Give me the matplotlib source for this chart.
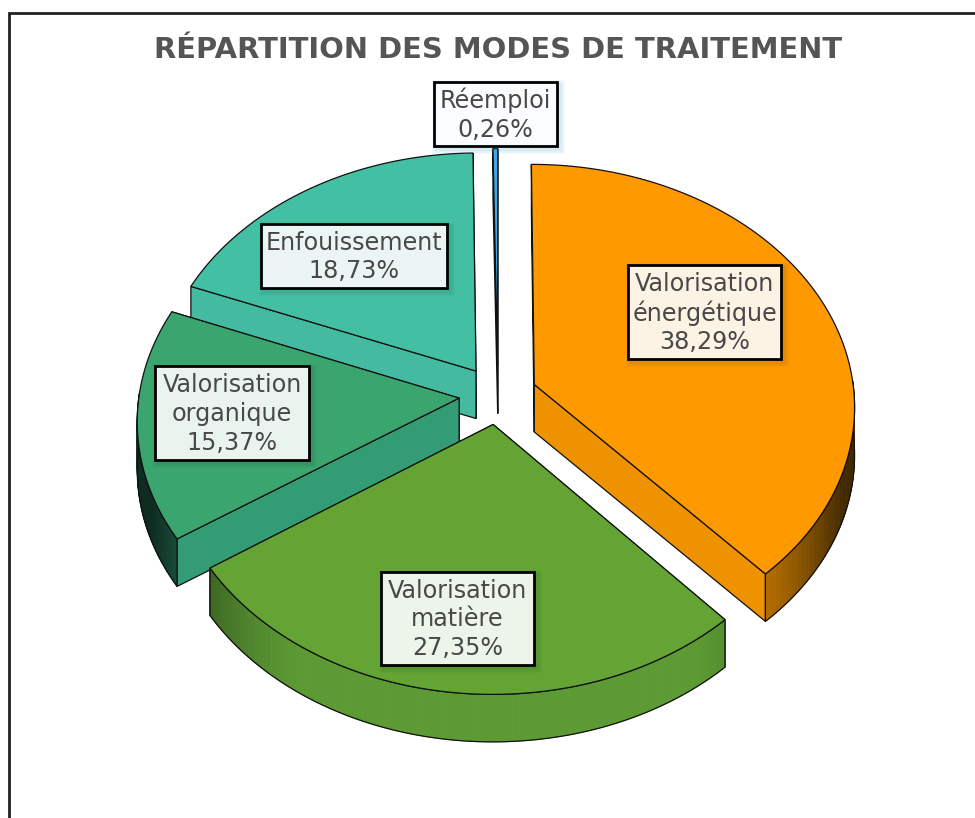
import matplotlib
matplotlib.use('Agg')
import matplotlib.pyplot as plt
import numpy as np
from matplotlib.collections import PolyCollection
from matplotlib.patches import Polygon, Rectangle
from matplotlib.colors import to_rgb

TITLE = 'RÉPARTITION DES MODES DE TRAITEMENT'

# clockwise from twelve o'clock
NAMES = ['Valorisation\nénergétique', 'Valorisation\nmatière',
         'Valorisation\norganique', 'Enfouissement', 'Réemploi']
VALUES = [38.29, 27.35, 15.37, 18.73, 0.26]
TOPS = ['#ff9900', '#63a435', '#3aa56f', '#43c0a3', '#3fa9e8']
WALLS = ['#ee9200', '#5c9a33', '#349c74', '#44bba0', '#3a9ad6']
SHADOWS = ['#7a5a20', '#2f5a20', '#1f5a40', '#206a5a', '#3f9fd0']
# back to front
DRAW_ORDER = [4, 3, 2, 0, 1]
# box left, top, right, bottom in pixels
LABEL_BOXES = [(628, 265, 781, 359), (381, 572, 534, 665),
               (155, 366, 309, 460), (261, 224, 447, 288),
               (434, 82, 557, 146)]

CX, CY = 498, 395
KX, KY = 320, 241
PERSP = 0.087
EXPLODE = 0.122
DEPTH = 47.5


def project(x, y, z=0.0):
    w = 1 / (1 - PERSP * y)
    return CX + KX * x * w, CY + KY * y * w + DEPTH * z


def rim(t, dx, dy, z=0.0):
    return project(np.sin(t) + dx, -np.cos(t) + dy, z)


def shade(color, x):
    f = 1 - 0.72 * np.clip((abs(x) - 0.55) / 0.5, 0, 1) ** 1.5
    return tuple(c * f for c in to_rgb(color))


def draw_slice(ax, i, a1, a2):
    mid = (a1 + a2) / 2
    dx, dy = EXPLODE * np.sin(mid), -EXPLODE * np.cos(mid)
    apex = project(dx, dy)
    apex_low = project(dx, dy, 1)
    t = np.linspace(a1, a2, 160)
    sx, sy = rim(t, dx, dy)
    lx, ly = rim(t, dx, dy, 1)

    # cut walls, the one further back first
    for k in sorted((0, -1), key=lambda k: sy[k]):
        pts = [apex, (sx[k], sy[k]), (lx[k], ly[k]), apex_low]
        ax.add_patch(Polygon(pts, fc=WALLS[i], ec='#111111', lw=0.9))

    # outer wall, only the part facing us, shaded towards the sides
    front = np.where(np.cos(t) < 0.02)[0]
    if len(front) > 1:
        quads, cols = [], []
        for k in front[:-1]:
            quads.append([(sx[k], sy[k]), (sx[k + 1], sy[k + 1]),
                          (lx[k + 1], ly[k + 1]), (lx[k], ly[k])])
            cols.append(shade(WALLS[i], np.sin(t[k]) + dx))
        ax.add_collection(PolyCollection(quads, facecolors=cols, edgecolors=cols, linewidths=0.6))
        outline = list(zip(sx[front], sy[front])) + list(zip(lx[front][::-1], ly[front][::-1]))
        ax.add_patch(Polygon(outline, fc='none', ec='#111111', lw=0.9))

    # top face
    top = [apex] + list(zip(sx, sy))
    ax.add_patch(Polygon(top, fc=TOPS[i], ec='#111111', lw=0.9))


def draw_label(ax, i):
    x0, y0, x1, y1 = LABEL_BOXES[i]
    for off, a in ((5, 0.05), (3.5, 0.07), (2, 0.09)):
        ax.add_patch(Rectangle((x0 - off + 3, y0 - off + 3), x1 - x0 + 2 * off, y1 - y0 + 2 * off,
                               fc=SHADOWS[i], ec='none', alpha=a, zorder=9))
    ax.add_patch(Rectangle((x0, y0), x1 - x0, y1 - y0, fc='white', alpha=0.9, ec='none', zorder=10))
    ax.add_patch(Rectangle((x0, y0), x1 - x0, y1 - y0, fc='none', ec='black', lw=2.0, zorder=11))
    label = NAMES[i] + '\n' + ('%.2f' % VALUES[i]).replace('.', ',') + '%'
    ax.text((x0 + x1) / 2, (y0 + y1) / 2 + 1, label, ha='center', va='center', fontsize=17.2,
            color='#484848', linespacing=1.24, zorder=12)


fig = plt.figure(figsize=(9.75, 8.18), dpi=100)
ax = fig.add_axes([0, 0, 1, 1])
ax.set_xlim(0, 975)
ax.set_ylim(818, 0)
ax.axis('off')

# chart frame, open at the right and bottom where the screenshot cuts it
ax.plot([9, 9, 975], [818, 13, 13], color='#222222', lw=2, solid_joinstyle='miter')

ax.text(498, 50, TITLE, ha='center', va='center', fontsize=20.9, fontweight='bold', color='#555555')

total = sum(VALUES)
edges = np.concatenate([[0], np.cumsum(VALUES)]) / total * 2 * np.pi
for i in DRAW_ORDER:
    draw_slice(ax, i, edges[i], edges[i + 1])
for i in range(len(VALUES)):
    draw_label(ax, i)

fig.savefig('out.png', dpi=100)
